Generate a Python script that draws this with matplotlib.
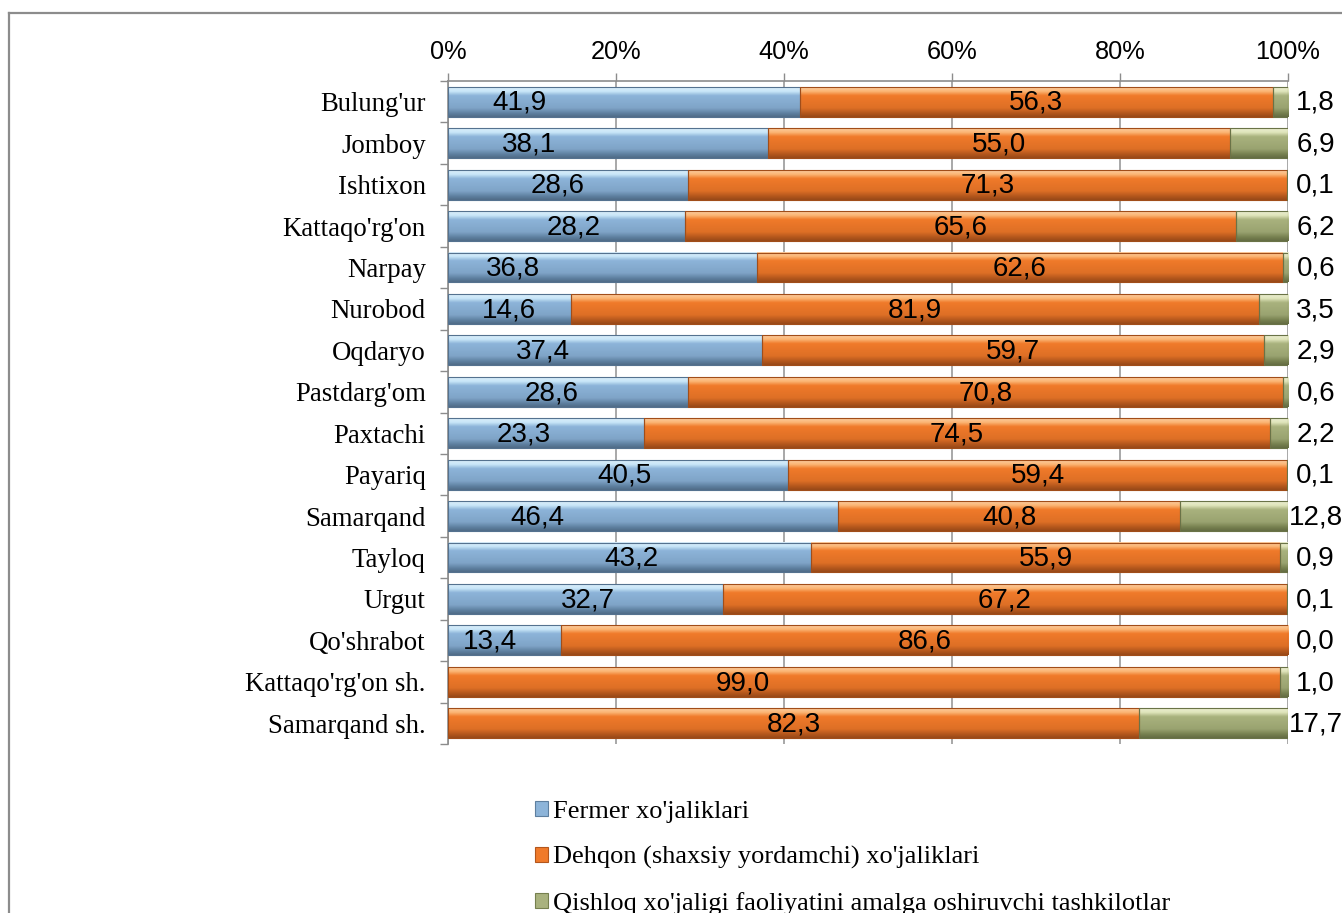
import numpy as np
import matplotlib

matplotlib.use("Agg")
import matplotlib.pyplot as plt
from matplotlib.colors import to_rgb
from matplotlib.lines import Line2D
from matplotlib.patches import Patch, Rectangle

# ---- data (percent shares by district) ----
districts = ["Bulung'ur", "Jomboy", "Ishtixon", "Kattaqo'rg'on", "Narpay", "Nurobod",
             "Oqdaryo", "Pastdarg'om", "Paxtachi", "Payariq", "Samarqand", "Tayloq",
             "Urgut", "Qo'shrabot", "Kattaqo'rg'on sh.", "Samarqand sh."]
fermer = [41.9, 38.1, 28.6, 28.2, 36.8, 14.6, 37.4, 28.6, 23.3, 40.5, 46.4, 43.2,
          32.7, 13.4, 0.0, 0.0]
dehqon = [56.3, 55.0, 71.3, 65.6, 62.6, 81.9, 59.7, 70.8, 74.5, 59.4, 40.8, 55.9,
          67.2, 86.6, 99.0, 82.3]
tashkilot = [1.8, 6.9, 0.1, 6.2, 0.6, 3.5, 2.9, 0.6, 2.2, 0.1, 12.8, 0.9,
             0.1, 0.0, 1.0, 17.7]
series_names = ["Fermer xo'jaliklari", "Dehqon (shaxsiy yordamchi) xo'jaliklari",
                "Qishloq xo'jaligi faoliyatini amalga oshiruvchi tashkilotlar"]
xticks = [0, 20, 40, 60, 80, 100]

# where the (hand-placed) Fermer labels sit, in % along the axis
fermer_label_x = [8.5, 9.6, 13.0, 15.0, 7.7, 7.2, 11.3, 12.3, 9.0, 21.0, 10.7, 21.8,
                  16.7, 5.0, None, None]

SERIF = ["Liberation Serif", "DejaVu Serif"]
SANS = ["Liberation Sans", "DejaVu Sans"]

# (highlight, base, shade) per series
STYLE = [
    ("#c9e6f8", "#8db4d9", "#5e7f9f"),
    ("#fbb574", "#f07a2a", "#b3561c"),
    ("#e0e5bb", "#a9b27e", "#76804f"),
]


def blend(c1, c2, t):
    a, b = np.array(to_rgb(c1)), np.array(to_rgb(c2))
    return a + (b - a) * t


def gradient(style, n=64):
    hi, base, sh = style
    stops = [(0.0, blend(hi, "white", 0.3)), (0.14, to_rgb(hi)), (0.28, to_rgb(base)),
             (0.7, blend(base, sh, 0.3)), (0.88, to_rgb(sh)), (1.0, blend(sh, "black", 0.15))]
    pos = np.linspace(0, 1, n)
    out = np.zeros((n, 1, 3))
    for ch in range(3):
        out[:, 0, ch] = np.interp(pos, [s[0] for s in stops], [s[1][ch] for s in stops])
    return out


def draw_bar(ax, left, width, y, h, style):
    if width <= 0:
        return
    img = gradient(style)
    ax.imshow(img, extent=(left, left + width, y + h / 2, y - h / 2), origin="upper",
              aspect="auto", interpolation="bilinear", zorder=2)
    ax.add_patch(Rectangle((left, y - h / 2), width, h, fill=False,
                           edgecolor=blend(style[2], "black", 0.1), linewidth=0.8, zorder=3))


fig = plt.figure(figsize=(13.42, 9.13), dpi=100)
ax = fig.add_axes([448 / 1342, 1 - 744 / 913, 840 / 1342, 663 / 913])

n = len(districts)
ys = np.arange(n)
h = 0.72
for i in range(n):
    left = 0.0
    for k, vals in enumerate([fermer, dehqon, tashkilot]):
        draw_bar(ax, left, vals[i], ys[i], h, STYLE[k])
        left += vals[i]

lab_kw = dict(fontsize=20, family=SANS, color="black", va="center", zorder=5)
for i in range(n):
    yl = ys[i] + 0.03
    if fermer[i] > 0:
        ax.text(fermer_label_x[i], yl, f"{fermer[i]:.1f}".replace(".", ","),
                ha="center", **lab_kw)
    mid = fermer[i] + dehqon[i] / 2
    if i == 14:
        mid = 35.1
    ax.text(mid, yl, f"{dehqon[i]:.1f}".replace(".", ","), ha="center", **lab_kw)
    ax.text(103.3, yl, f"{tashkilot[i]:.1f}".replace(".", ","), ha="center",
            clip_on=False, **lab_kw)

ax.set_xlim(0, 100)
ax.set_ylim(n - 0.5, -0.5)

ax.xaxis.tick_top()
ax.set_xticks(xticks)
ax.set_xticklabels([f"{t}%" for t in xticks], family=SANS, fontsize=18.3)
ax.tick_params(axis="x", length=6, width=1, color="#8c8c8c", pad=6)

ax.set_yticks(ys)
ax.set_yticklabels(districts, family=SERIF, fontsize=19.3)
ax.tick_params(axis="y", which="major", length=0, pad=16)
ax.set_yticks(np.arange(-0.5, n, 1), minor=True)
ax.tick_params(axis="y", which="minor", length=6, width=1, color="#8c8c8c")

ax.grid(axis="x", color="#9a9a9a", linewidth=1.2, zorder=0)
ax.set_axisbelow(True)
for side in ["right", "bottom"]:
    ax.spines[side].set_visible(False)
for side in ["left", "top"]:
    ax.spines[side].set_color("#8c8c8c")
    ax.spines[side].set_linewidth(1.2)

handles = [Patch(facecolor=s[1], edgecolor=s[2], linewidth=0.8) for s in STYLE]
fig.legend(handles, series_names, loc="upper left",
           bbox_to_anchor=(524 / 1342, 1 - 790 / 913), frameon=False,
           prop={"family": SERIF, "size": 19}, handlelength=0.5, handleheight=0.5,
           handletextpad=0.2, labelspacing=0.88, borderaxespad=0)

# outer chart frame (only left and top edges are inside the picture)
fig.add_artist(Line2D([8.5 / 1342, 8.5 / 1342], [0, 1 - 13 / 913], transform=fig.transFigure,
                      color="#8c8c8c", linewidth=1.6))
fig.add_artist(Line2D([8.5 / 1342, 1], [1 - 13 / 913, 1 - 13 / 913], transform=fig.transFigure,
                      color="#8c8c8c", linewidth=1.6))

fig.savefig("out.png", dpi=100)
